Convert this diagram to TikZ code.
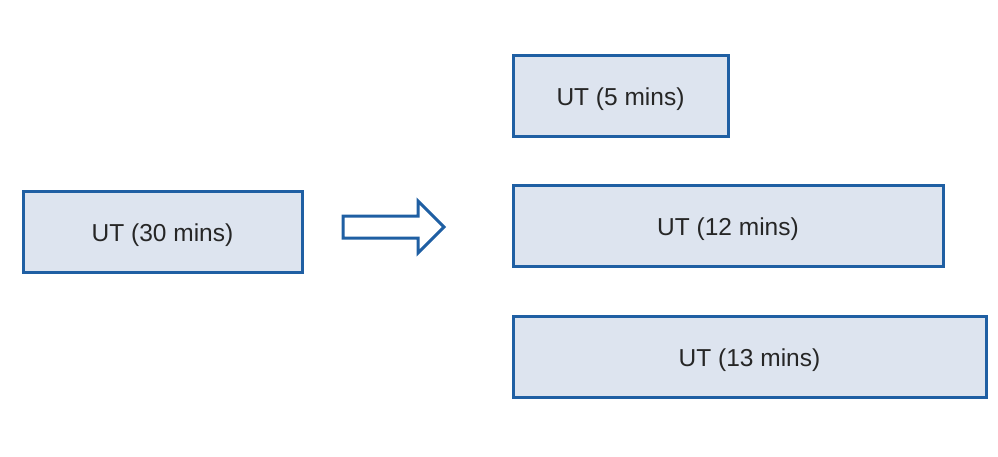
\documentclass[tikz,border=0pt]{standalone}
\usepackage{fontspec}
\setmainfont{Liberation Sans}
\definecolor{bord}{HTML}{1F5FA3}
\definecolor{fillc}{HTML}{DDE4EF}
\begin{document}
\begin{tikzpicture}[x=1pt,y=-1pt,
  box/.style={draw=bord,fill=fillc,line width=3pt,inner sep=0pt,font=\fontsize{24.5}{29}\selectfont,text=black!85,text height=22pt,text depth=3pt}]
\useasboundingbox (0,0) rectangle (998,456);
\node[box,minimum width=279pt,minimum height=81pt] (a) at (162.5,231.5) {UT (30 mins)};
\node[box,minimum width=215pt,minimum height=81pt] (b) at (620.5,95.5) {UT (5 mins)};
\node[box,minimum width=430pt,minimum height=81pt] (c) at (728,225.5) {UT (12 mins)};
\node[box,minimum width=473pt,minimum height=81pt] (d) at (749.5,356.5) {UT (13 mins)};
\draw[draw=bord,fill=white,line width=3pt,line join=miter]
  (343,216) -- (418,216) -- (418,201) -- (444,227) -- (418,253) -- (418,238) -- (343,238) -- cycle;
\end{tikzpicture}
\end{document}
